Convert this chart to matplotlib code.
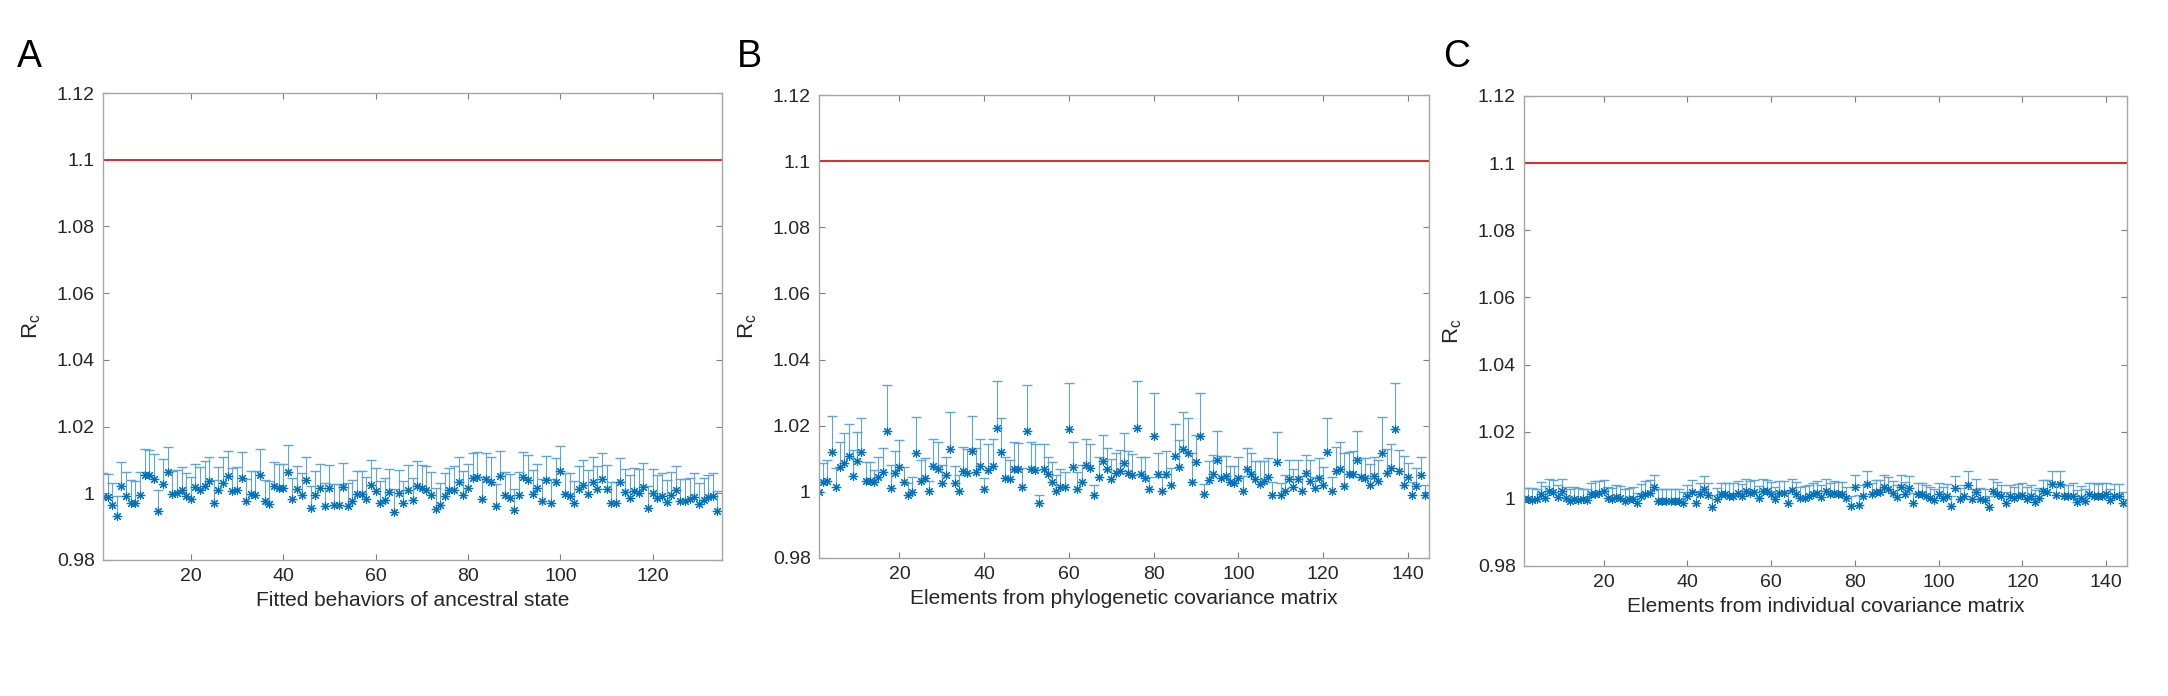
import numpy as np
import matplotlib
matplotlib.use("Agg")
import matplotlib.pyplot as plt

plt.rcParams['font.family'] = ['Liberation Sans', 'DejaVu Sans']

# panel A: fitted behaviors of ancestral state (134 values), upper error only
a_vals = [0.9990, 0.9990, 0.9966, 0.9931, 1.0022, 0.9992, 0.9972, 0.9970, 0.9994, 1.0056,
          1.0055, 1.0043, 0.9946, 1.0029, 1.0064, 0.9997, 1.0002, 1.0010, 0.9993, 0.9983,
          1.0018, 1.0010, 1.0022, 1.0037, 0.9972, 1.0010, 1.0032, 1.0052, 1.0007, 1.0009,
          1.0046, 0.9976, 0.9998, 0.9996, 1.0055, 0.9976, 0.9969, 1.0021, 1.0015, 1.0015,
          1.0064, 0.9982, 1.0013, 0.9995, 1.0039, 0.9956, 0.9996, 1.0015, 0.9962, 1.0015,
          0.9966, 0.9965, 1.0020, 0.9962, 0.9977, 0.9999, 0.9999, 0.9983, 1.0026, 1.0006,
          0.9971, 0.9980, 1.0004, 0.9945, 1.0000, 0.9972, 1.0010, 0.9980, 1.0022, 1.0015,
          1.0010, 0.9994, 0.9953, 0.9965, 0.9991, 1.0010, 1.0010, 1.0035, 0.9996, 1.0016,
          1.0047, 1.0048, 0.9983, 1.0043, 1.0034, 0.9963, 1.0052, 0.9996, 0.9987, 0.9949,
          0.9994, 1.0049, 1.0041, 0.9998, 1.0016, 0.9978, 1.0039, 0.9972, 1.0033, 1.0066,
          0.9998, 0.9993, 0.9970, 1.0012, 1.0024, 0.9999, 1.0033, 1.0012, 1.0043, 1.0014,
          0.9970, 0.9970, 1.0033, 1.0004, 0.9987, 1.0006, 1.0000, 1.0020, 0.9957, 1.0002,
          0.9986, 0.9992, 0.9974, 0.9994, 1.0010, 0.9978, 0.9978, 0.9982, 0.9990, 0.9968,
          0.9980, 0.9990, 0.9993, 0.9946]
a_err = [0.0071, 0.0068, 0.0064, 0.0061, 0.0072, 0.0072, 0.0069, 0.0067, 0.0070, 0.0077,
         0.0076, 0.0076, 0.0064, 0.0074, 0.0076, 0.0070, 0.0069, 0.0068, 0.0068, 0.0066,
         0.0071, 0.0070, 0.0075, 0.0071, 0.0069, 0.0069, 0.0077, 0.0076, 0.0068, 0.0070,
         0.0077, 0.0068, 0.0069, 0.0071, 0.0078, 0.0065, 0.0068, 0.0072, 0.0072, 0.0072,
         0.0081, 0.0065, 0.0069, 0.0067, 0.0071, 0.0066, 0.0070, 0.0074, 0.0068, 0.0071,
         0.0062, 0.0063, 0.0071, 0.0068, 0.0064, 0.0068, 0.0068, 0.0066, 0.0073, 0.0071,
         0.0066, 0.0066, 0.0069, 0.0068, 0.0069, 0.0064, 0.0074, 0.0067, 0.0074, 0.0069,
         0.0071, 0.0071, 0.0064, 0.0067, 0.0070, 0.0067, 0.0071, 0.0074, 0.0071, 0.0073,
         0.0075, 0.0076, 0.0066, 0.0077, 0.0074, 0.0064, 0.0076, 0.0068, 0.0070, 0.0063,
         0.0070, 0.0076, 0.0075, 0.0073, 0.0073, 0.0066, 0.0073, 0.0071, 0.0073, 0.0075,
         0.0063, 0.0068, 0.0067, 0.0071, 0.0075, 0.0070, 0.0075, 0.0071, 0.0079, 0.0070,
         0.0064, 0.0064, 0.0074, 0.0070, 0.0068, 0.0070, 0.0074, 0.0071, 0.0065, 0.0071,
         0.0069, 0.0068, 0.0065, 0.0070, 0.0071, 0.0065, 0.0065, 0.0065, 0.0071, 0.0063,
         0.0067, 0.0064, 0.0068, 0.0062]

# panel B: elements from phylogenetic covariance matrix (144 values)
b_vals = [1.0000, 1.0031, 1.0033, 1.0122, 1.0016, 1.0074, 1.0088, 1.0109, 1.0048, 1.0092,
          1.0120, 1.0033, 1.0032, 1.0030, 1.0044, 1.0060, 1.0184, 1.0011, 1.0057, 1.0075,
          1.0030, 0.9989, 1.0000, 1.0117, 1.0033, 1.0043, 1.0002, 1.0079, 1.0069, 1.0026,
          1.0051, 1.0131, 1.0027, 1.0002, 1.0063, 1.0056, 1.0123, 1.0060, 1.0079, 1.0010,
          1.0065, 1.0079, 1.0192, 1.0120, 1.0041, 1.0039, 1.0070, 1.0070, 1.0016, 1.0184,
          1.0069, 1.0066, 0.9966, 1.0069, 1.0053, 1.0029, 1.0002, 1.0016, 1.0016, 1.0190,
          1.0074, 1.0010, 1.0029, 1.0081, 1.0071, 0.9990, 1.0044, 1.0093, 1.0068, 1.0039,
          1.0056, 1.0063, 1.0088, 1.0058, 1.0051, 1.0192, 1.0053, 1.0043, 1.0010, 1.0169,
          1.0053, 1.0002, 1.0054, 1.0021, 1.0109, 1.0076, 1.0131, 1.0119, 1.0029, 1.0091,
          1.0169, 0.9993, 1.0037, 1.0054, 1.0096, 1.0043, 1.0048, 1.0031, 1.0028, 1.0043,
          1.0002, 1.0068, 1.0054, 1.0038, 1.0024, 1.0034, 1.0045, 0.9990, 1.0091, 0.9990,
          1.0002, 1.0040, 1.0016, 1.0040, 1.0002, 1.0056, 1.0034, 1.0011, 1.0041, 1.0020,
          1.0121, 1.0002, 1.0063, 1.0069, 1.0018, 1.0054, 1.0054, 1.0096, 1.0046, 1.0041,
          1.0022, 1.0049, 1.0034, 1.0118, 1.0056, 1.0071, 1.0189, 1.0063, 1.0021, 1.0044,
          0.9990, 1.0019, 1.0050, 0.9992]
b_err = [0.0031, 0.0057, 0.0063, 0.0108, 0.0057, 0.0077, 0.0089, 0.0096, 0.0078, 0.0089,
         0.0103, 0.0057, 0.0058, 0.0036, 0.0060, 0.0074, 0.0139, 0.0070, 0.0067, 0.0083,
         0.0044, 0.0037, 0.0044, 0.0108, 0.0063, 0.0060, 0.0032, 0.0082, 0.0082, 0.0056,
         0.0055, 0.0110, 0.0051, 0.0048, 0.0074, 0.0074, 0.0107, 0.0074, 0.0081, 0.0033,
         0.0080, 0.0080, 0.0143, 0.0103, 0.0063, 0.0057, 0.0081, 0.0078, 0.0057, 0.0139,
         0.0082, 0.0079, 0.0026, 0.0076, 0.0053, 0.0062, 0.0048, 0.0052, 0.0044, 0.0140,
         0.0077, 0.0049, 0.0053, 0.0079, 0.0074, 0.0031, 0.0061, 0.0079, 0.0065, 0.0059,
         0.0060, 0.0065, 0.0089, 0.0065, 0.0062, 0.0143, 0.0053, 0.0062, 0.0034, 0.0131,
         0.0065, 0.0044, 0.0071, 0.0050, 0.0096, 0.0082, 0.0110, 0.0104, 0.0089, 0.0082,
         0.0131, 0.0031, 0.0057, 0.0057, 0.0088, 0.0065, 0.0060, 0.0048, 0.0051, 0.0061,
         0.0046, 0.0064, 0.0064, 0.0056, 0.0070, 0.0059, 0.0058, 0.0040, 0.0089, 0.0038,
         0.0048, 0.0055, 0.0052, 0.0057, 0.0046, 0.0054, 0.0062, 0.0033, 0.0062, 0.0054,
         0.0102, 0.0043, 0.0074, 0.0082, 0.0098, 0.0067, 0.0070, 0.0089, 0.0057, 0.0062,
         0.0063, 0.0057, 0.0062, 0.0107, 0.0074, 0.0075, 0.0141, 0.0065, 0.0087, 0.0044,
         0.0040, 0.0053, 0.0056, 0.0030]

# panel C: elements from individual covariance matrix (144 values)
c_vals = [1.0000, 1.0000, 0.9998, 1.0000, 1.0015, 1.0002, 1.0022, 1.0020, 1.0007, 1.0022,
          1.0002, 0.9994, 1.0000, 0.9998, 1.0000, 0.9998, 1.0013, 1.0015, 1.0017, 1.0022,
          1.0002, 1.0000, 1.0007, 1.0002, 0.9995, 1.0000, 1.0000, 0.9987, 1.0010, 1.0015,
          1.0018, 1.0035, 0.9995, 0.9995, 0.9995, 0.9994, 0.9995, 0.9995, 0.9987, 1.0010,
          1.0020, 0.9988, 1.0015, 1.0030, 1.0012, 0.9976, 1.0000, 1.0015, 1.0015, 1.0010,
          1.0010, 1.0018, 1.0008, 1.0024, 1.0017, 1.0020, 1.0003, 1.0022, 1.0022, 1.0013,
          1.0000, 1.0017, 1.0017, 0.9988, 1.0025, 1.0015, 1.0002, 1.0004, 1.0008, 1.0015,
          1.0018, 1.0007, 1.0024, 1.0014, 1.0017, 1.0014, 1.0014, 1.0002, 0.9978, 1.0034,
          0.9982, 1.0008, 1.0044, 1.0014, 1.0020, 1.0020, 1.0035, 1.0030, 1.0018, 1.0005,
          1.0035, 1.0014, 1.0032, 0.9988, 1.0014, 1.0014, 1.0008, 1.0002, 0.9998, 1.0014,
          1.0002, 1.0008, 0.9980, 1.0032, 1.0000, 1.0008, 1.0042, 1.0000, 1.0020, 1.0000,
          0.9996, 0.9976, 1.0024, 1.0014, 1.0008, 0.9988, 1.0008, 1.0002, 1.0008, 1.0012,
          1.0000, 1.0008, 0.9992, 1.0002, 1.0022, 1.0020, 1.0044, 1.0012, 1.0044, 1.0008,
          1.0008, 1.0010, 0.9992, 1.0004, 0.9994, 1.0014, 1.0010, 1.0008, 1.0010, 1.0014,
          0.9998, 1.0010, 1.0010, 0.9988]
c_err = [0.0032, 0.0032, 0.0034, 0.0030, 0.0035, 0.0036, 0.0036, 0.0036, 0.0035, 0.0036,
         0.0032, 0.0036, 0.0034, 0.0034, 0.0030, 0.0032, 0.0035, 0.0037, 0.0037, 0.0035,
         0.0033, 0.0032, 0.0035, 0.0036, 0.0035, 0.0032, 0.0034, 0.0031, 0.0034, 0.0037,
         0.0038, 0.0037, 0.0035, 0.0033, 0.0033, 0.0034, 0.0035, 0.0035, 0.0033, 0.0032,
         0.0036, 0.0034, 0.0033, 0.0037, 0.0036, 0.0034, 0.0032, 0.0033, 0.0033, 0.0036,
         0.0036, 0.0036, 0.0037, 0.0036, 0.0035, 0.0035, 0.0035, 0.0036, 0.0034, 0.0037,
         0.0034, 0.0035, 0.0035, 0.0034, 0.0035, 0.0035, 0.0032, 0.0034, 0.0034, 0.0033,
         0.0036, 0.0033, 0.0034, 0.0034, 0.0037, 0.0036, 0.0036, 0.0034, 0.0030, 0.0038,
         0.0030, 0.0034, 0.0038, 0.0034, 0.0036, 0.0036, 0.0037, 0.0036, 0.0036, 0.0035,
         0.0037, 0.0036, 0.0036, 0.0030, 0.0034, 0.0034, 0.0032, 0.0032, 0.0032, 0.0034,
         0.0034, 0.0036, 0.0030, 0.0036, 0.0032, 0.0034, 0.0040, 0.0030, 0.0038, 0.0032,
         0.0032, 0.0032, 0.0036, 0.0036, 0.0034, 0.0032, 0.0032, 0.0032, 0.0036, 0.0034,
         0.0036, 0.0034, 0.0034, 0.0030, 0.0034, 0.0036, 0.0038, 0.0034, 0.0038, 0.0034,
         0.0034, 0.0036, 0.0034, 0.0034, 0.0034, 0.0034, 0.0036, 0.0036, 0.0038, 0.0034,
         0.0032, 0.0034, 0.0034, 0.0032]

threshold = 1.1
panel_letters = ['A', 'B', 'C']
xlabels = ['Fitted behaviors of ancestral state',
           'Elements from phylogenetic covariance matrix',
           'Elements from individual covariance matrix']

W, H = 2168, 696
fig = plt.figure(figsize=(W / 100, H / 100), dpi=100)

# axes boxes in pixels: left, right, top, bottom
boxes = [(103, 722, 93, 560), (819, 1429, 95, 558), (1524, 2127, 96, 566)]
letter_x = [17, 737, 1443]

blue = '#0072BD'
asterisk = (8, 2, 0)

panels = [(a_vals, a_err), (b_vals, b_err), (c_vals, c_err)]
for k, (vals, err) in enumerate(panels):
    l, r, t, b = boxes[k]
    ax = fig.add_axes([l / W, 1 - b / H, (r - l) / W, (b - t) / H])
    x = np.arange(1, len(vals) + 1)
    ax.errorbar(x, vals, yerr=[np.zeros(len(err)), err], fmt='none',
                ecolor='#5fa5da', elinewidth=0.8, capsize=3.5, capthick=1.0)
    ax.plot(x, vals, linestyle='none', marker=asterisk, markersize=6.5,
            color=blue, markeredgewidth=0.8)
    ax.axhline(threshold, color='#e0282a', linewidth=1.4)
    ax.set_xlim(1, len(vals) + 1)
    ax.set_ylim(0.98, 1.12)
    ax.set_xticks(np.arange(20, len(vals) + 1, 20))
    ax.set_yticks([0.98, 1.0, 1.02, 1.04, 1.06, 1.08, 1.1, 1.12])
    ax.set_yticklabels(['0.98', '1', '1.02', '1.04', '1.06', '1.08', '1.1', '1.12'])
    ax.tick_params(direction='in', length=4, width=0.8, color='#7f7f7f',
                   labelsize=14, labelcolor='#262626', top=True, right=True, pad=6)
    for s in ax.spines.values():
        s.set_color('#a6a6a6')
        s.set_linewidth(1.0)
    ax.set_xlabel(xlabels[k], fontsize=15, color='#262626', labelpad=4)
    ax.set_ylabel(r'$\mathregular{R_c}$', fontsize=16, color='#262626', labelpad=10)
    fig.text(letter_x[k] / W, 1 - 67 / H, panel_letters[k], fontsize=27,
             ha='left', va='baseline')

fig.savefig('out.png', dpi=100)
